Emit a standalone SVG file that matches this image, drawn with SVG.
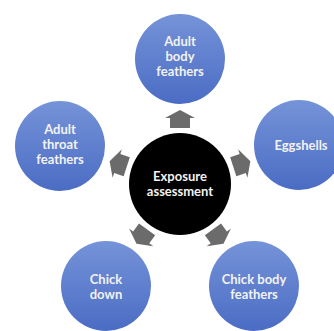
<svg xmlns="http://www.w3.org/2000/svg" width="334" height="331" viewBox="0 0 334 331">
  <defs>
    <linearGradient id="blueFill" x1="0" y1="0" x2="0" y2="1">
      <stop offset="0" stop-color="#7593d8"/>
      <stop offset="1" stop-color="#4b6cc4"/>
    </linearGradient>
    <!-- outward block arrow, drawn pointing up from the hub centre -->
    <polygon id="blockArrow" points="0,-74 15,-66 10,-66 10,-56 -10,-56 -10,-66 -15,-66"/>
  </defs>
  <style>
    .node { fill: url(#blueFill); }
    .hub { fill: #000000; }
    .arrow { fill: #6b6b6b; }
    .label { font-family: Lato, "Open Sans", "Liberation Sans", sans-serif; font-weight: bold; font-size: 13px; fill: #f2f2f2; text-anchor: middle; }
  </style>
  <rect width="334" height="331" fill="#ffffff"/>

  <g id="connectors">
    <use href="#blockArrow" class="arrow" transform="translate(180,184) rotate(0)"/>
    <use href="#blockArrow" class="arrow" transform="translate(180,184) rotate(72)"/>
    <use href="#blockArrow" class="arrow" transform="translate(180,184) rotate(144)"/>
    <use href="#blockArrow" class="arrow" transform="translate(180,184) rotate(216)"/>
    <use href="#blockArrow" class="arrow" transform="translate(180,184) rotate(288)"/>
  </g>

  <g id="exposure-assessment">
    <circle class="hub" cx="180" cy="184" r="51"/>
    <text class="label" x="180" y="181">Exposure</text>
    <text class="label" x="180" y="196">assessment</text>
  </g>

  <g id="adult-body-feathers">
    <circle class="node" cx="180" cy="59" r="45"/>
    <text class="label" x="180" y="46">Adult</text>
    <text class="label" x="180" y="61">body</text>
    <text class="label" x="180" y="76">feathers</text>
  </g>

  <g id="eggshells">
    <circle class="node" cx="299" cy="145" r="45"/>
    <text class="label" x="301" y="149.5">Eggshells</text>
  </g>

  <g id="chick-body-feathers">
    <circle class="node" cx="254" cy="286" r="45"/>
    <text class="label" x="254" y="284">Chick body</text>
    <text class="label" x="254" y="299">feathers</text>
  </g>

  <g id="chick-down">
    <circle class="node" cx="106" cy="286" r="45"/>
    <text class="label" x="106" y="284">Chick</text>
    <text class="label" x="106" y="299">down</text>
  </g>

  <g id="adult-throat-feathers">
    <circle class="node" cx="60" cy="146" r="45"/>
    <text class="label" x="60" y="134">Adult</text>
    <text class="label" x="60" y="149">throat</text>
    <text class="label" x="60" y="164">feathers</text>
  </g>
</svg>
